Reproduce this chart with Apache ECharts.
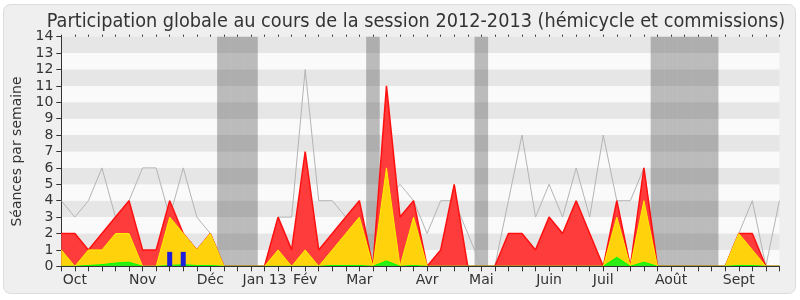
<!DOCTYPE html>
<html>
<head>
<meta charset="utf-8">
<script src="https://cdn.jsdelivr.net/npm/echarts@6/dist/echarts.min.js"></script>
<style>html,body{margin:0;padding:0;background:#fff}#c{width:800px;height:300px}</style>
</head>
<body>
<div id="c"></div>
<script>
// Week tick labels (one entry per week)
const weekLabels = ['', 'Oct', '', '', '', '', 'Nov', '', '', '', '', 'Déc', '', '', '', 'Jan 13', '', '', 'Fév', '', '', '', 'Mar', '', '', '', '', 'Avr', '', '', '', 'Mai', '', '', '', '', 'Juin', '', '', '', 'Juil', '', '', '', '', 'Août', '', '', '', '', 'Sept', '', '', ''];
// Séances (red area)
const seances = [2,2,1,2,3,4,1,1,4,2,1,2,0,0,0,0,3,1,7,1,2,3,4,0,11,3,4,0,1,5,0,0,0,2,2,1,3,2,4,2,0,4,0,6,0,0,0,0,0,0,2,2,0,0];
// Présences (yellow area)
const presences = [1,0,1,1,2,2,0,0,3,2,1,2,0,0,0,0,1,0,1,0,1,2,3,0,6,0,3,0,0,0,0,0,0,0,0,0,0,0,0,0,0,3,0,4,0,0,0,0,0,0,2,1,0,0];
// Interventions (green area)
const interventions = [0,0,0.05,0.1,0.2,0.25,0,0,0.05,0.1,0.05,0.05,0,0,0,0,0,0,0,0,0.05,0.05,0.05,0,0.33,0,0.05,0,0,0,0,0,0,0,0,0,0,0,0,0,0,0.55,0,0.25,0,0,0,0,0,0,0.05,0.05,0,0];
// Médiane (grey line)
const mediane = [4,3,4,6,3,4,6,6,3,6,3,2,0,0,0,0,3,3,12,4,4,3,3,0,4,5,4,2,4,4,2,0,0,4,8,3,5,3,6,3,8,4,4,6,0,0,0,0,0,0,2,4,0,4];
// Questions (blue bars)
const questions = [null,null,null,null,null,null,null,null,0.88,0.88,null,null,null,null,null,null,null,null,null,null,null,null,null,null,null,null,null,null,null,null,null,null,null,null,null,null,null,null,null,null,null,null,null,null,null,null,null,null,null,null,null,null,null,null];
// Vacation weeks (indices)
const vacances = [12,13,14,23,31,44,45,46,47,48];
const yMax = 14;

const vacData = weekLabels.map((_, i) => vacances.indexOf(i) >= 0 ? yMax : null);
const FF = 'DejaVu Sans';
const chart = echarts.init(document.getElementById('c'), null, {renderer: 'canvas'});
chart.setOption({
  backgroundColor: '#ffffff',
  animation: false,
  textStyle: {fontFamily: FF},
  graphic: [{
    type: 'rect', z: -100, silent: true,
    shape: {x: 3.5, y: 4.5, width: 792, height: 289, r: 7},
    style: {fill: '#efefef', stroke: '#dcdcdc', lineWidth: 1}
  }],
  title: {
    text: 'Participation globale au cours de la session 2012-2013 (hémicycle et commissions)',
    left: 411, top: 7, textAlign: 'center',
    textStyle: {fontFamily: "'DejaVu Sans Condensed', 'DejaVu Sans'", fontSize: 19.7, fontWeight: 'normal', color: '#333'}
  },
  grid: {left: 61.3, right: 20.6, top: 36.7, bottom: 33.7, containLabel: false},
  xAxis: [{
    type: 'category', data: weekLabels, boundaryGap: false, position: 'bottom', z: 10,
    axisLine: {lineStyle: {color: '#333', width: 1}},
    axisTick: {show: true, interval: 0, length: 5, lineStyle: {color: '#333'}},
    axisLabel: {interval: 0, fontSize: 14, color: '#333', margin: 7, fontFamily: FF},
    splitLine: {show: false}
  }, {
    type: 'category', data: weekLabels, boundaryGap: false, position: 'top',
    axisLine: {show: false},
    axisTick: {show: true, interval: 0, length: 2, inside: false, lineStyle: {color: '#333'}},
    axisLabel: {show: false},
    splitLine: {show: false}
  }],
  yAxis: {
    type: 'value', min: 0, max: yMax, interval: 1,
    name: 'Séances par semaine', nameLocation: 'middle', nameGap: 36, nameRotate: 90,
    nameTextStyle: {fontSize: 14, color: '#333', fontFamily: FF},
    axisLine: {show: true, lineStyle: {color: '#333'}},
    axisTick: {show: true, length: 5, lineStyle: {color: '#333'}},
    axisLabel: {fontSize: 14, color: '#333', margin: 8, fontFamily: FF},
    splitLine: {show: false},
    splitArea: {show: true, areaStyle: {color: ['#fafafa', '#e6e6e6']}}
  },
  series: [
    {type: 'bar', xAxisIndex: 1, data: vacData, barWidth: '100%', z: 1, silent: true,
     itemStyle: {color: 'rgba(70,70,70,0.35)'}},
    {type: 'line', data: mediane, symbol: 'none', z: 2,
     lineStyle: {color: '#b4b4b4', width: 1}},
    {type: 'line', data: seances, symbol: 'none', z: 3,
     lineStyle: {color: '#ff1010', width: 1.5},
     areaStyle: {color: '#ff3c3c', opacity: 1}},
    {type: 'line', data: presences, symbol: 'none', z: 4,
     lineStyle: {color: '#ffee00', width: 1},
     areaStyle: {color: '#ffd20c', opacity: 1}},
    {type: 'line', data: interventions, symbol: 'none', z: 5,
     lineStyle: {color: '#00ff00', width: 1},
     areaStyle: {color: '#2bee14', opacity: 1}},
    {type: 'bar', xAxisIndex: 0, data: questions, barWidth: 5, z: 6,
     itemStyle: {color: '#1e1edd'}}
  ]
});
</script>
</body>
</html>
